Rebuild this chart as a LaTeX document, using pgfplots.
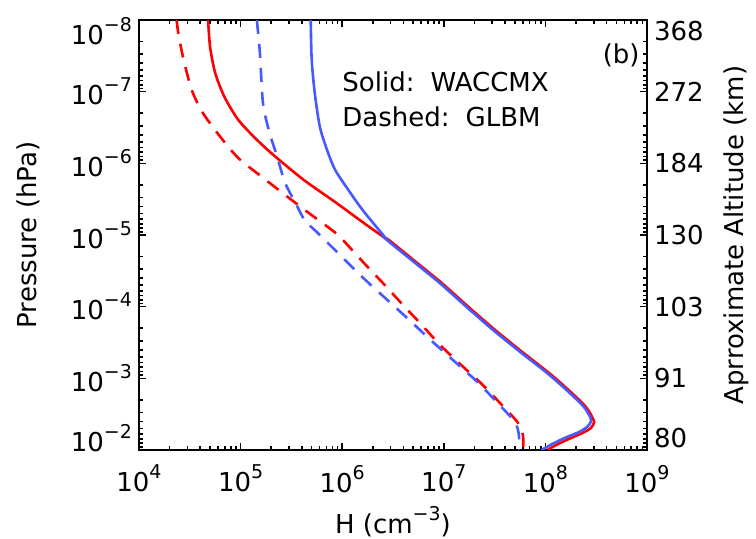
\documentclass[border=0pt]{standalone}
\usepackage{fontspec}
\setmainfont{DejaVu Sans}
\usepackage{pgfplots}
\pgfplotsset{compat=1.18}
\definecolor{myred}{RGB}{255,0,0}
\definecolor{myblue}{RGB}{70,90,255}
\newcommand\tl[1]{10\raisebox{0.5em}{\fontsize{9.5}{11}\selectfont #1}}
\newcommand\dn[1]{\raisebox{-5.5pt}[\height][\depth]{#1}}
\newcommand\up[1]{\raisebox{6pt}[\height][\depth]{#1}}
\begin{document}
\begin{tikzpicture}[font=\fontsize{13}{15}\selectfont]
\path[use as bounding box] (-69.5pt,-44.5pt) rectangle (308.5pt,225pt);
\begin{axis}[
  name=ax, at={(0,0)}, anchor=south west, scale only axis,
  width=254pt, height=215pt,
  xmode=log, ymode=log, xmin=1e4, xmax=1e9, ymin=1e-8, ymax=1e-2,
  y dir=reverse,
  xtick={1e4,1e5,1e6,1e7,1e8,1e9},
  xticklabels={\tl{4},\tl{5},\tl{6},\tl{7},\tl{8},\tl{9}},
  xticklabel style={yshift=-4pt},
  ytick={1e-8,1e-7,1e-6,1e-5,1e-4,1e-3,1e-2},
  yticklabels={\dn{\tl{−8}},\tl{−7},\tl{−6},\tl{−5},\tl{−4},\tl{−3},\up{\tl{−2}}},
  ytick pos=left,
  tick align=inside,
  major tick length=3.5pt, minor tick length=1.8pt,
  every tick/.style={black, line width=0.8pt},
  axis line style={line width=1.4pt},
  xlabel={H (cm\raisebox{0.5em}{\fontsize{9.5}{11}\selectfont −3})},
  ylabel={Pressure (hPa)},
  xlabel style={at={(axis description cs:0.5,-0.1674)}, anchor=center},
  ylabel style={at={(axis description cs:-0.2185,0.5)}, anchor=center},
  clip=true,
]
% red solid (WACCMX)
\addplot[myred, line width=1.3pt, smooth, tension=0.45] coordinates {
(4.786e4,1e-8) (5.012e4,2.399e-8) (5.623e4,5.495e-8) (6.918e4,1.175e-7)
(9.333e4,2.399e-7) (1.349e5,4.266e-7) (2.089e5,7.586e-7) (4.169e5,1.698e-6)
(8.710e5,3.548e-6) (1.622e6,6.761e-6) (2.630e6,1.096e-5) (2.884e6,1.175e-5)
(5.248e6,2.344e-5) (9.550e6,4.677e-5) (1.738e7,1e-4) (3.162e7,2.089e-4)
(5.888e7,4.266e-4) (1.096e8,8.511e-4) (1.622e8,1.380e-3) (2.291e8,2.188e-3)
(2.630e8,2.754e-3) (2.884e8,3.467e-3) (3.020e8,4.074e-3) (2.818e8,4.898e-3)
(2.344e8,5.754e-3) (1.738e8,6.918e-3) (1.318e8,8.318e-3) (1.047e8,1e-2)
};
% red dashed (GLBM)
\addplot[myred, line width=1.3pt, smooth, tension=0.45, dash pattern=on 7pt off 5pt] coordinates {
(2.344e4,1e-8) (2.455e4,1.622e-8) (2.754e4,3.631e-8) (3.311e4,9.550e-8)
(4.266e4,1.995e-7) (6.310e4,4.266e-7) (9.550e4,8.511e-7) (1.622e5,1.549e-6)
(2.570e5,2.570e-6) (4.266e5,4.467e-6) (7.244e5,7.762e-6) (9.550e5,1.072e-5)
(1.660e6,2.512e-5) (2.630e6,5.012e-5) (3.981e6,9.550e-5) (6.026e6,1.778e-4)
(9.120e6,3.388e-4) (1.445e7,6.310e-4) (2.291e7,1.148e-3) (3.548e7,2.188e-3)
(5.370e7,4.169e-3) (6.026e7,6.310e-3) (6.026e7,1e-2)
};
% blue solid (WACCMX)
\addplot[myblue, line width=1.3pt, smooth, tension=0.45] coordinates {
(4.898e5,1e-8) (5.012e5,3.631e-8) (5.370e5,1.047e-7) (6.026e5,3.090e-7)
(7.079e5,6.457e-7) (8.511e5,1.230e-6) (1.148e6,2.344e-6) (1.585e6,4.467e-6)
(2.630e6,1.072e-5) (2.754e6,1.175e-5) (5.012e6,2.344e-5) (9.120e6,4.677e-5)
(1.660e7,1e-4) (3.020e7,2.089e-4) (5.623e7,4.266e-4) (1.047e8,8.511e-4)
(1.549e8,1.380e-3) (2.188e8,2.188e-3) (2.512e8,2.754e-3) (2.754e8,3.467e-3)
(2.818e8,3.981e-3) (2.570e8,4.786e-3) (2.138e8,5.623e-3) (1.622e8,6.607e-3)
(1.230e8,7.943e-3) (9.120e7,1e-2)
};
% blue dashed (GLBM)
\addplot[myblue, line width=1.3pt, smooth, tension=0.45, dash pattern=on 7pt off 5pt] coordinates {
(1.445e5,1e-8) (1.549e5,2.884e-8) (1.660e5,1.445e-7) (1.905e5,3.548e-7)
(2.291e5,8.128e-7) (2.754e5,1.905e-6) (3.467e5,3.548e-6) (4.266e5,6.166e-6)
(6.026e5,1e-5) (8.913e5,1.738e-5) (1.479e6,3.548e-5) (2.512e6,7.079e-5)
(4.365e6,1.445e-4) (7.762e6,3.090e-4) (1.288e7,5.888e-4) (2.138e7,1.122e-3)
(3.311e7,2.138e-3) (5.012e7,4.074e-3) (5.495e7,6.310e-3) (5.495e7,1e-2)
};
\end{axis}
\begin{axis}[
  at={(0,0)}, anchor=south west, scale only axis,
  width=254pt, height=215pt,
  xmode=log, ymode=log, xmin=1e4, xmax=1e9, ymin=1e-8, ymax=1e-2,
  y dir=reverse,
  hide x axis, axis y line*=right,
  tick align=inside,
  major tick length=3.5pt, minor tick length=1.8pt,
  every tick/.style={black, line width=0.8pt},
  axis line style={line width=1.4pt},
  ytick={1e-8,1e-7,1e-6,1e-5,1e-4,1e-3,1e-2},
  yticklabels={\dn{368},272,184,130,103,91,\up{80}},
  ylabel={Aprroximate Altitude (km)},
  ylabel style={at={(axis description cs:1.1752,0.5)}, anchor=center},
]
\end{axis}
\node[anchor=west, inner sep=0pt] at (101.5pt,184pt) {Solid:\hspace{8pt}WACCMX};
\node[anchor=west, inner sep=0pt] at (101.5pt,166.5pt) {Dashed:\hspace{8pt}GLBM};
\node[anchor=east, inner sep=0pt] at (250.5pt,197.5pt) {(b)};
\end{tikzpicture}
\end{document}
